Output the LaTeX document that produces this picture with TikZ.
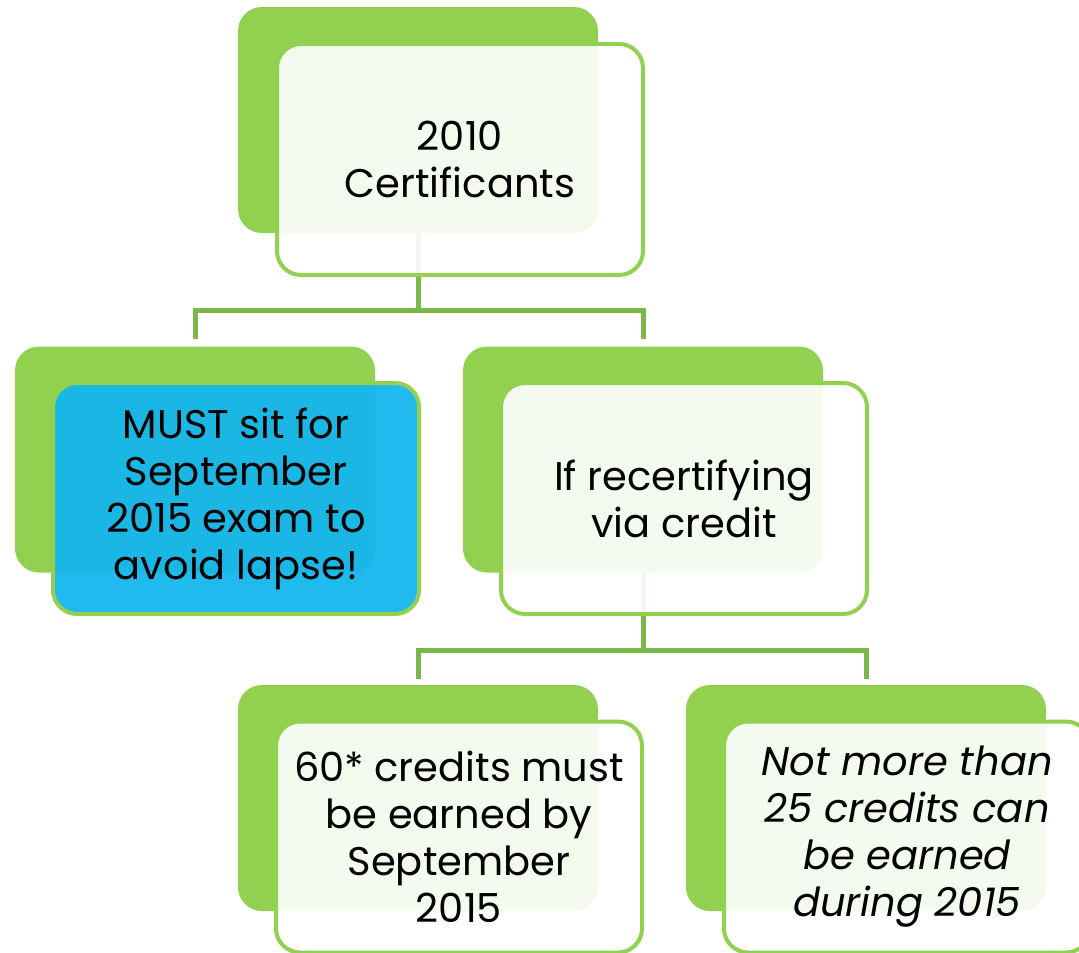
\documentclass[tikz,border=0pt]{standalone}
\usepackage{fontspec}
\setmainfont{Poppins}
\definecolor{lgreen}{HTML}{92D050}
\definecolor{cgreen}{HTML}{7AB648}
\definecolor{mblue}{HTML}{14B6EE}
\pgfdeclarelayer{bg}\pgfsetlayers{bg,main}
\begin{document}
\begin{tikzpicture}[x=1pt,y=-1pt,
 backbox/.style={rectangle, rounded corners=24pt, fill=lgreen, minimum width=360pt, minimum height=226pt, inner sep=0pt},
 frontbox/.style={rectangle, rounded corners=24pt, draw=lgreen, line width=4pt, fill=white, fill opacity=0.9, text opacity=1, minimum width=366pt, minimum height=231pt, inner sep=0pt, align=center, font=\fontsize{40}{47}\selectfont},
 bluebox/.style={frontbox, fill=mblue, fill opacity=0.95},
 link/.style={draw=cgreen, line width=5pt}]
\useasboundingbox (0,0) rectangle (1079,953);
\clip (0,0) rectangle (1079,953);
% level 0
\node[backbox] (t0) at (418,120) {};
\node[frontbox] (t0f) at (460,159.5) {2010\\Certificants};
% level 1
\node[backbox] (l1) at (195,459.5) {};
\node[bluebox] (l1f) at (236,498.5) {MUST sit for\\September\\2015 exam to\\avoid lapse!};
\node[backbox] (r1) at (643,459.5) {};
\node[frontbox] (r1f) at (684,498.5) {If recertifying\\via credit};
% level 2
\node[backbox] (l2) at (418,798) {};
\node[frontbox] (l2f) at (459,837) {60* credits must\\be earned by\\September\\2015};
\node[backbox] (r2) at (866,798) {};
\node[frontbox, font=\fontsize{40}{47}\selectfont\itshape] (r2f) at (907,837) {Not more than\\25 credits can\\be earned\\during 2015};
% connectors
\begin{pgfonlayer}{bg}
\draw[link] (t0.south) -- ++(0,77) -| ([yshift=7pt]l1.north);
\draw[link] (t0.south) -- ++(0,77) -| ([yshift=7pt]r1.north);
\draw[link] (r1.south) -- ++(0,78) -| ([yshift=6pt]l2.north);
\draw[link] (r1.south) -- ++(0,78) -| ([yshift=6pt]r2.north);
\end{pgfonlayer}
\end{tikzpicture}
\end{document}
